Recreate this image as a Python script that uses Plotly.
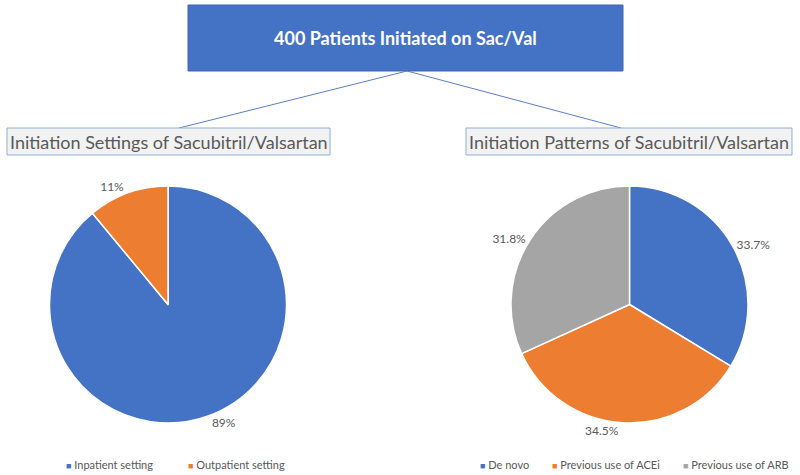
import plotly.graph_objects as go

W, H = 800, 475

# ---- data ----
main_title = "400 Patients Initiated on Sac/Val"
left_title = "Initiation Settings of Sacubitril/Valsartan"
right_title = "Initiation Patterns of Sacubitril/Valsartan"

setting_labels = ["Inpatient setting", "Outpatient setting"]
setting_values = [89, 11]

pattern_labels = ["De novo", "Previous use of ACEi", "Previous use of ARB"]
pattern_values = [33.7, 34.5, 31.8]

BLUE, ORANGE, GRAY = "#4472C4", "#ED7D31", "#A5A5A5"
setting_colors = [BLUE, ORANGE]
pattern_colors = [BLUE, ORANGE, GRAY]
TXT = "#595959"
FONT = "Lato"


def px(x):
    return x / W


def py(y):
    return 1 - y / H


fig = go.Figure()

fig.add_trace(go.Pie(
    labels=setting_labels, values=setting_values,
    sort=False, direction="clockwise", rotation=0,
    marker=dict(colors=setting_colors, line=dict(color="white", width=1.5)),
    textposition="outside", texttemplate="%{value}%",
    textfont=dict(size=12, color=TXT, family=FONT),
    domain=dict(x=[px(49), px(287)], y=[py(423), py(186)]),
    showlegend=False, hoverinfo="label+percent",
))

fig.add_trace(go.Pie(
    labels=pattern_labels, values=pattern_values,
    sort=False, direction="clockwise", rotation=0,
    marker=dict(colors=pattern_colors, line=dict(color="white", width=1.5)),
    textposition="outside", texttemplate="%{value}%",
    textfont=dict(size=12, color=TXT, family=FONT),
    domain=dict(x=[px(510), px(749)], y=[py(423), py(186)]),
    showlegend=False, hoverinfo="label+percent",
))

shapes = [
    dict(type="rect", xref="paper", yref="paper",
         x0=px(188), x1=px(623), y0=py(71), y1=py(5),
         fillcolor=BLUE, line=dict(color="#3F67B0", width=1), layer="below"),
    dict(type="line", xref="paper", yref="paper",
         x0=px(407), y0=py(71), x1=px(179), y1=py(128),
         line=dict(color="#5B7FC0", width=1)),
    dict(type="line", xref="paper", yref="paper",
         x0=px(407), y0=py(71), x1=px(621), y1=py(128),
         line=dict(color="#5B7FC0", width=1)),
    dict(type="rect", xref="paper", yref="paper",
         x0=px(7), x1=px(330), y0=py(155), y1=py(128),
         fillcolor="#F2F2F2", line=dict(color="#8EAFD6", width=1)),
    dict(type="rect", xref="paper", yref="paper",
         x0=px(466), x1=px(792), y0=py(155), y1=py(128),
         fillcolor="#F2F2F2", line=dict(color="#8EAFD6", width=1)),
]

annotations = [
    dict(text="<b>" + main_title + "</b>", x=px(405), y=py(38), xref="paper", yref="paper",
         showarrow=False, font=dict(family=FONT, size=18, color="white"),
         xanchor="center", yanchor="middle"),
    dict(text=left_title, x=px(168.5), y=py(142), xref="paper", yref="paper",
         showarrow=False, font=dict(family=FONT, size=18, color=TXT),
         xanchor="center", yanchor="middle"),
    dict(text=right_title, x=px(629), y=py(142), xref="paper", yref="paper",
         showarrow=False, font=dict(family=FONT, size=18, color=TXT),
         xanchor="center", yanchor="middle"),
]

# legends built as text items (square + label)
legend_left_x = [64, 186]
legend_right_x = [478, 550, 681]
for labels, colors, xs in [(setting_labels, setting_colors, legend_left_x),
                           (pattern_labels, pattern_colors, legend_right_x)]:
    for lab, col, x in zip(labels, colors, xs):
        annotations.append(dict(
            text=f"<span style='color:{col};font-size:9px'>■</span> {lab}",
            x=px(x), y=py(464), xref="paper", yref="paper", showarrow=False,
            xanchor="left", yanchor="middle",
            font=dict(family=FONT, size=11, color=TXT)))

fig.update_layout(
    width=W, height=H,
    margin=dict(l=0, r=0, t=0, b=0),
    paper_bgcolor="white", plot_bgcolor="white",
    font=dict(family=FONT, color=TXT),
    shapes=shapes, annotations=annotations,
    showlegend=False,
)

fig.write_html("out.html", config={"displayModeBar": False},
               post_script="document.body.style.margin='0';document.body.style.overflow='hidden';")
